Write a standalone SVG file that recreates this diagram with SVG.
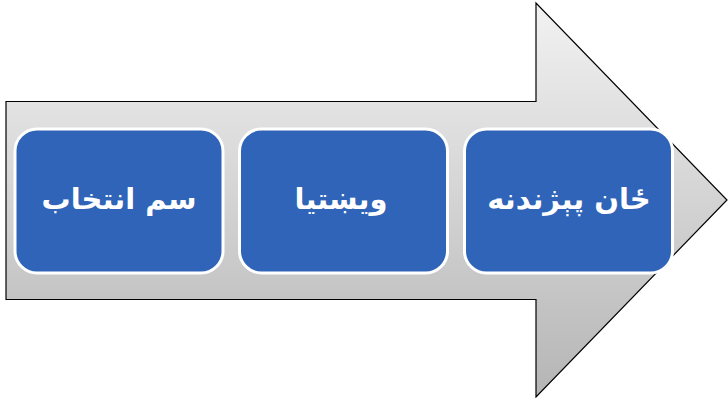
<svg xmlns="http://www.w3.org/2000/svg" width="728" height="398" viewBox="0 0 728 398">
<defs>
<linearGradient id="g" gradientUnits="userSpaceOnUse" x1="0" y1="3" x2="0" y2="397">
<stop offset="0" stop-color="#f2f2f2"/>
<stop offset="1" stop-color="#b5b5b5"/>
</linearGradient>
</defs>
<style>
.box{fill:#3064b8;stroke:#ffffff;stroke-width:3}
.t{font-family:"DejaVu Sans",sans-serif;font-weight:bold;font-size:29px;fill:#ffffff;text-anchor:middle;dominant-baseline:central}
</style>
<rect width="728" height="398" fill="#ffffff"/>
<g id="arrow">
<path d="M6,101.5 H536 V3 L727,200 L536,397 V299.5 H6 Z" fill="url(#g)" stroke="#000000" stroke-width="1.2"/>
</g>
<g id="connectors"></g>
<g id="node1">
<rect class="box" x="15" y="129" width="208" height="144" rx="22"/>
<text class="t" x="119" y="199" direction="rtl">سم انتخاب</text>
</g>
<g id="node2">
<rect class="box" x="239.5" y="129" width="208" height="144" rx="22"/>
<text class="t" x="341" y="199" direction="rtl">ویښتیا</text>
</g>
<g id="node3">
<rect class="box" x="464.5" y="129" width="208" height="144" rx="22"/>
<text class="t" x="569" y="199" direction="rtl">ځان پېژندنه</text>
</g>
</svg>
